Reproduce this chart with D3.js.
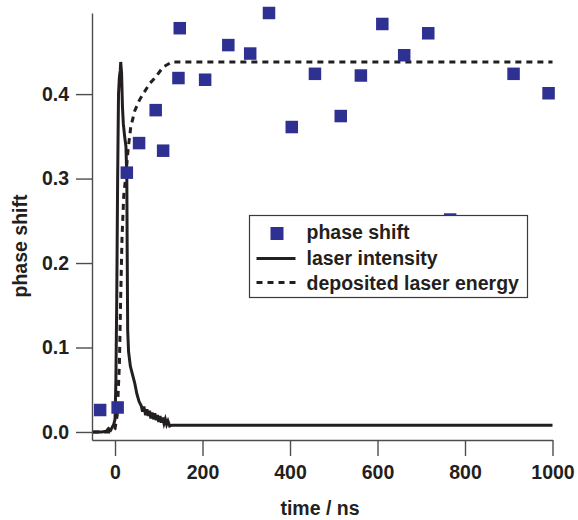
<!DOCTYPE html>
<html>
<meta charset="utf-8">
<script src="https://d3js.org/d3.v7.min.js"></script>
<style>
  body { margin: 0; background: #fff; }
  text { font-family: "Liberation Sans", Arial, sans-serif; fill: #231f20; }
</style>
<body>
<div id="chart"></div>
<script>
// phase shift measurements (time in ns, shift)
var shiftTime = [-34, 6, 27, 55, 93, 110, 145, 148, 206, 259, 309, 352, 404, 457, 516, 562, 611, 661, 716, 766, 911, 991];
var shiftVal  = [0.026, 0.029, 0.307, 0.342, 0.381, 0.333, 0.419, 0.478, 0.417, 0.458, 0.448, 0.496, 0.361, 0.424, 0.374, 0.422, 0.483, 0.446, 0.472, 0.2515, 0.424, 0.401];

// laser intensity trace (scaled)
var pulseTime = [-50, -40, -30, -20, -15, -10, -6, -3, 0, 2, 4, 6, 8, 10, 12, 13, 15, 17, 19, 22, 25, 27, 28, 29, 31, 35, 40, 45, 50, 55, 60, 63, 66, 70, 73, 76, 79, 82, 85, 88, 91, 94, 97, 100, 103, 106, 109, 112, 115, 118, 121, 125, 130, 1000];
var pulseVal  = [0.000, 0.000, 0.000, 0.001, 0.004, 0.002, 0.006, 0.009, 0.015, 0.06, 0.16, 0.30, 0.40, 0.42, 0.428, 0.438, 0.425, 0.385, 0.365, 0.35, 0.338, 0.30, 0.20, 0.12, 0.095, 0.078, 0.068, 0.058, 0.045, 0.036, 0.031, 0.024, 0.030, 0.020, 0.027, 0.019, 0.025, 0.016, 0.023, 0.015, 0.022, 0.014, 0.020, 0.012, 0.019, 0.011, 0.017, 0.010, 0.015, 0.009, 0.013, 0.007, 0.008, 0.008];

// deposited laser energy (cumulative)
var energyTime = [-50, -10, 0, 5, 10, 13, 16, 20, 25, 30, 36, 45, 55, 64, 80, 91, 110, 130, 1000];
var energyVal  = [0.000, 0.000, 0.004, 0.02, 0.08, 0.16, 0.23, 0.28, 0.305, 0.335, 0.361, 0.38, 0.392, 0.40, 0.413, 0.419, 0.432, 0.438, 0.438];

var xTicks = [0, 200, 400, 600, 800, 1000];
var yTicks = [0.0, 0.1, 0.2, 0.3, 0.4];
var legendLabels = ["phase shift", "laser intensity", "deposited laser energy"];

var W = 578, H = 520;
var svg = d3.select("#chart").append("svg")
    .attr("width", W)
    .attr("height", H);

var x = d3.scaleLinear().domain([-52.6, 1000]).range([92, 552.5]);
var y = d3.scaleLinear().domain([-0.0095, 0.496]).range([440, 13]);

var ink = "#231f20", axisCol = "#4d4d4f", blue = "#2e3192";

// axes
var xAxis = svg.append("g")
    .attr("transform", "translate(0,440)")
    .call(d3.axisBottom(x).tickValues(xTicks).tickSize(16).tickSizeOuter(0).tickPadding(9).tickFormat(d3.format("d")));
var yAxis = svg.append("g")
    .attr("transform", "translate(92,0)")
    .call(d3.axisLeft(y).tickValues(yTicks).tickSize(16).tickSizeOuter(0).tickPadding(7).tickFormat(d3.format(".1f")));

[xAxis, yAxis].forEach(function(g) {
  g.select(".domain").attr("stroke", axisCol).attr("stroke-width", 1.4);
  g.selectAll(".tick line").attr("stroke", axisCol).attr("stroke-width", 1.4);
  g.selectAll(".tick text")
    .style("font-family", "'Liberation Sans', Arial, sans-serif")
    .style("font-size", "19.5px")
    .style("font-weight", "bold")
    .attr("fill", ink);
});

// axis titles
svg.append("text")
    .attr("x", 320).attr("y", 515)
    .attr("text-anchor", "middle")
    .style("font-size", "19.5px").style("font-weight", "bold")
    .text("time / ns");
svg.append("text")
    .attr("transform", "translate(27,246) rotate(-90)")
    .attr("text-anchor", "middle")
    .style("font-size", "19.5px").style("font-weight", "bold")
    .text("phase shift");

var line = d3.line()
    .x(function(d) { return x(d[0]); })
    .y(function(d) { return y(d[1]); });

// laser intensity
svg.append("path")
    .datum(d3.zip(pulseTime, pulseVal))
    .attr("fill", "none")
    .attr("stroke", ink)
    .attr("stroke-width", 3)
    .attr("stroke-linejoin", "miter")
    .attr("d", line);

// deposited energy
svg.append("path")
    .datum(d3.zip(energyTime, energyVal))
    .attr("fill", "none")
    .attr("stroke", ink)
    .attr("stroke-width", 3)
    .attr("stroke-dasharray", "6,5")
    .attr("d", line);

// phase shift points
var sq = 12.5;
svg.selectAll("rect.pt")
    .data(d3.zip(shiftTime, shiftVal))
    .enter().append("rect")
    .attr("class", "pt")
    .attr("x", function(d) { return x(d[0]) - sq / 2; })
    .attr("y", function(d) { return y(d[1]) - sq / 2; })
    .attr("width", sq)
    .attr("height", sq)
    .attr("fill", blue);

// legend
var lg = svg.append("g").attr("transform", "translate(249.5,215.5)");
lg.append("rect")
    .attr("width", 278).attr("height", 82)
    .attr("fill", "#fff")
    .attr("stroke", "#3a3a3c").attr("stroke-width", 1.2);

lg.append("rect")
    .attr("x", 21).attr("y", 11.5)
    .attr("width", 13).attr("height", 13)
    .attr("fill", blue);
lg.append("line")
    .attr("x1", 7).attr("x2", 46).attr("y1", 43).attr("y2", 43)
    .attr("stroke", ink).attr("stroke-width", 3);
lg.append("line")
    .attr("x1", 7).attr("x2", 46).attr("y1", 67).attr("y2", 67)
    .attr("stroke", ink).attr("stroke-width", 3)
    .attr("stroke-dasharray", "6,5");

lg.selectAll("text.lab")
    .data(legendLabels)
    .enter().append("text")
    .attr("class", "lab")
    .attr("x", 57)
    .attr("y", function(d, i) { return 23.5 + i * 25.5; })
    .style("font-size", "19.5px").style("font-weight", "bold")
    .text(function(d) { return d; });
</script>
</body>
</html>
